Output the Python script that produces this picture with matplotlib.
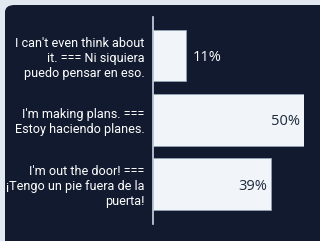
import matplotlib
matplotlib.use("Agg")
import matplotlib.pyplot as plt
from matplotlib.patches import FancyBboxPatch

categories = ["I can't even think about\nit. === Ni siquiera\npuedo pensar en eso.",
              "I'm making plans. ===\nEstoy haciendo planes.",
              "I'm out the door! ===\n¡Tengo un pie fuera de la\npuerta!"]
values = [11, 50, 39]
value_labels = ["11%", "50%", "39%"]

W, H = 320, 241
fig = plt.figure(figsize=(W/100, H/100), dpi=100)
fig.patch.set_facecolor("#e2e8f0")
fig.add_artist(FancyBboxPatch((5/W, -0.2), 1.2, 1.2 - 5/H, boxstyle="round,pad=0,rounding_size=0.03",
                              transform=fig.transFigure, facecolor="#111a2e", edgecolor="none", zorder=0))

ax = fig.add_axes([153/W, 17/H, (304-153)/W, (224-17)/H])
ax.set_facecolor("none")
ax.barh(range(len(values)), values, height=0.8, color="#f1f5f9", edgecolor="#94a3b8", linewidth=0.6, zorder=2)
ax.set_xlim(0, 50)
ax.set_ylim(2.62, -0.6)
for s in ["top", "right", "bottom"]:
    ax.spines[s].set_visible(False)
ax.spines["left"].set_color("#cbd5e1")
ax.spines["left"].set_linewidth(1.2)
ax.spines["left"].set_zorder(3)
ax.set_xticks([])
ax.set_yticks(range(len(values)))
ax.set_yticklabels(categories, color="white", fontsize=9.1, family="Roboto", linespacing=1.2)
ax.tick_params(axis="y", length=0, pad=6)
for lab in ax.get_yticklabels():
    lab.set_horizontalalignment("right")
    lab.set_multialignment("right")

for i, (v, t) in enumerate(zip(values, value_labels)):
    if v < 20:
        ax.text(v + 2.3, i + 0.03, t, ha="left", va="center", color="white", fontsize=10.5, family="Open Sans")
    else:
        ax.text(v - 1.2, i + 0.03, t, ha="right", va="center", color="#1e293b", fontsize=10.5, family="Open Sans")

fig.savefig("out.png", dpi=100, facecolor=fig.get_facecolor())
